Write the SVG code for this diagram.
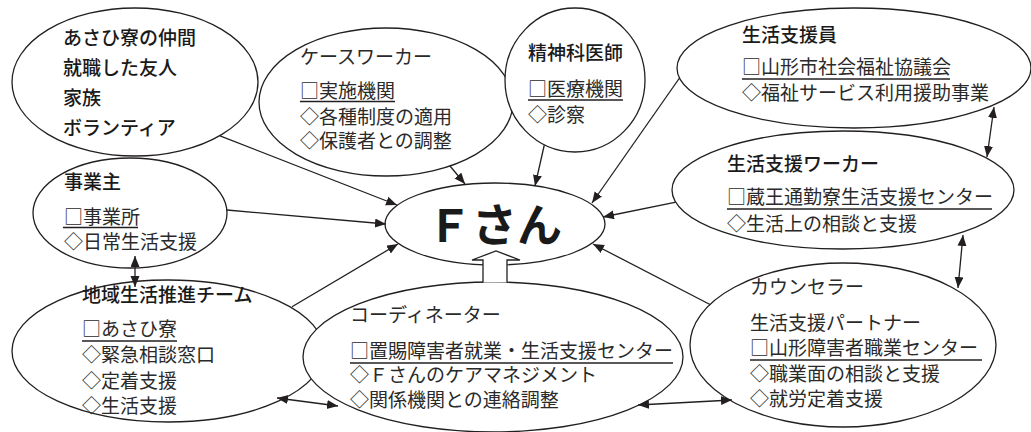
<svg xmlns="http://www.w3.org/2000/svg" width="1031" height="432" viewBox="0 0 1031 432">
<defs>
<marker id="ah" markerUnits="userSpaceOnUse" markerWidth="12" markerHeight="10" refX="11" refY="4.5" orient="auto-start-reverse">
<path d="M0,0 L11,4.5 L0,9 z" fill="#231f20"/>
</marker>
<style>
.n ellipse{fill:#fff;stroke:#231f20;stroke-width:1.3}
.t{font-family:"Noto Sans CJK JP","Noto Sans CJK SC","DejaVu Sans",sans-serif;font-size:19px;fill:#2a2a2a;font-variant-emoji:text}
.h{font-weight:500;fill:#1a1a1a}
.u{stroke:#231f20;stroke-width:1.3}
.c path{fill:none;stroke:#231f20;stroke-width:1.3}
.one{marker-end:url(#ah)}
.two{marker-start:url(#ah);marker-end:url(#ah)}
</style>
</defs>
<rect width="1031" height="432" fill="#fff"/>

<g class="n" id="friends">
<ellipse cx="135" cy="82" rx="123" ry="74"/>
<text class="t h" x="63" y="45">あさひ寮の仲間</text>
<text class="t h" x="63" y="75">就職した友人</text>
<text class="t h" x="63" y="105">家族</text>
<text class="t h" x="63" y="135">ボランティア</text>
</g>

<g class="n" id="caseworker">
<ellipse cx="386" cy="102" rx="127" ry="74"/>
<text class="t" x="300" y="64">ケースワーカー</text>
<text class="t" x="300" y="98">□実施機関</text>
<line class="u" x1="300" y1="101.5" x2="395" y2="101.5"/>
<text class="t" x="300" y="124">◇各種制度の適用</text>
<text class="t" x="300" y="148">◇保護者との調整</text>
</g>

<g class="n" id="psychiatrist">
<ellipse cx="575" cy="80" rx="70" ry="72"/>
<text class="t h" x="528" y="60">精神科医師</text>
<text class="t" x="528" y="96">□医療機関</text>
<line class="u" x1="528" y1="100" x2="623" y2="100"/>
<text class="t" x="528" y="122">◇診察</text>
</g>

<g class="n" id="lifesupport">
<ellipse cx="854" cy="68" rx="177" ry="60"/>
<text class="t h" x="742" y="42">生活支援員</text>
<text class="t" x="742" y="74">□山形市社会福祉協議会</text>
<line class="u" x1="742" y1="79" x2="950" y2="79"/>
<text class="t" x="742" y="100">◇福祉サービス利用援助事業</text>
</g>

<g class="n" id="employer">
<ellipse cx="130" cy="213" rx="97" ry="55"/>
<text class="t h" x="64" y="189">事業主</text>
<text class="t" x="64" y="224">□事業所</text>
<line class="u" x1="63" y1="227.5" x2="138" y2="227.5"/>
<text class="t" x="64" y="249">◇日常生活支援</text>
</g>

<g class="n" id="worker">
<ellipse cx="843" cy="190" rx="171" ry="59"/>
<text class="t h" x="727" y="171">生活支援ワーカー</text>
<text class="t" x="727" y="204">□蔵王通勤寮生活支援センター</text>
<line class="u" x1="727" y1="209" x2="992" y2="209"/>
<text class="t" x="727" y="231">◇生活上の相談と支援</text>
</g>

<g class="n" id="fsan">
<ellipse cx="495" cy="224" rx="110" ry="41"/>
<text x="427" y="242" font-family="'Noto Sans CJK JP',sans-serif" font-size="45" font-weight="bold" fill="#1a1a1a">Ｆさん</text>
</g>

<g class="n" id="team">
<ellipse cx="168" cy="351" rx="156" ry="71"/>
<text class="t h" x="82" y="302">地域生活推進チーム</text>
<text class="t" x="82" y="336">□あさひ寮</text>
<line class="u" x1="82" y1="341" x2="177" y2="341"/>
<text class="t" x="82" y="362">◇緊急相談窓口</text>
<text class="t" x="82" y="388">◇定着支援</text>
<text class="t" x="82" y="413">◇生活支援</text>
</g>

<g class="n" id="coordinator">
<ellipse cx="493" cy="357" rx="190" ry="75"/>
<text class="t" x="350" y="322">コーディネーター</text>
<text class="t" x="350" y="358">□置賜障害者就業・生活支援センター</text>
<line class="u" x1="350" y1="363" x2="673" y2="363"/>
<text class="t" x="350" y="382">◇Ｆさんのケアマネジメント</text>
<text class="t" x="350" y="407">◇関係機関との連絡調整</text>
</g>

<g class="n" id="counselor">
<ellipse cx="843" cy="345" rx="153" ry="82"/>
<text class="t" x="750" y="294">カウンセラー</text>
<text class="t" x="750" y="330">生活支援パートナー</text>
<text class="t" x="750" y="355">□山形障害者職業センター</text>
<line class="u" x1="750" y1="360" x2="982" y2="360"/>
<text class="t" x="750" y="381">◇職業面の相談と支援</text>
<text class="t" x="750" y="406">◇就労定着支援</text>
</g>

<g class="c" id="connectors">
<path id="blockarrow" d="M483,282.5 L483,260 L472,260 L496,251 L520,260 L507,260 L507,282.5" style="fill:#fff"/>
<path class="one" d="M220,135.8 L397,205"/>
<path class="one" d="M450,166 L465,184"/>
<path class="one" d="M544.3,145 L535,186"/>
<path class="one" d="M679.5,78 L592,203"/>
<path class="one" d="M227,210 L386,224"/>
<path class="one" d="M676,202.2 L603,217"/>
<path class="one" d="M292,306.8 L398,244"/>
<path class="one" d="M710,304.5 L593,244"/>
<path class="two" d="M135,256 L135,287"/>
<path class="two" d="M994,107 L987,157"/>
<path class="two" d="M963,235 L958,288"/>
<path class="two" d="M277,398 L338,406"/>
<path class="two" d="M638,405 L732,400"/>
</g>
</svg>
